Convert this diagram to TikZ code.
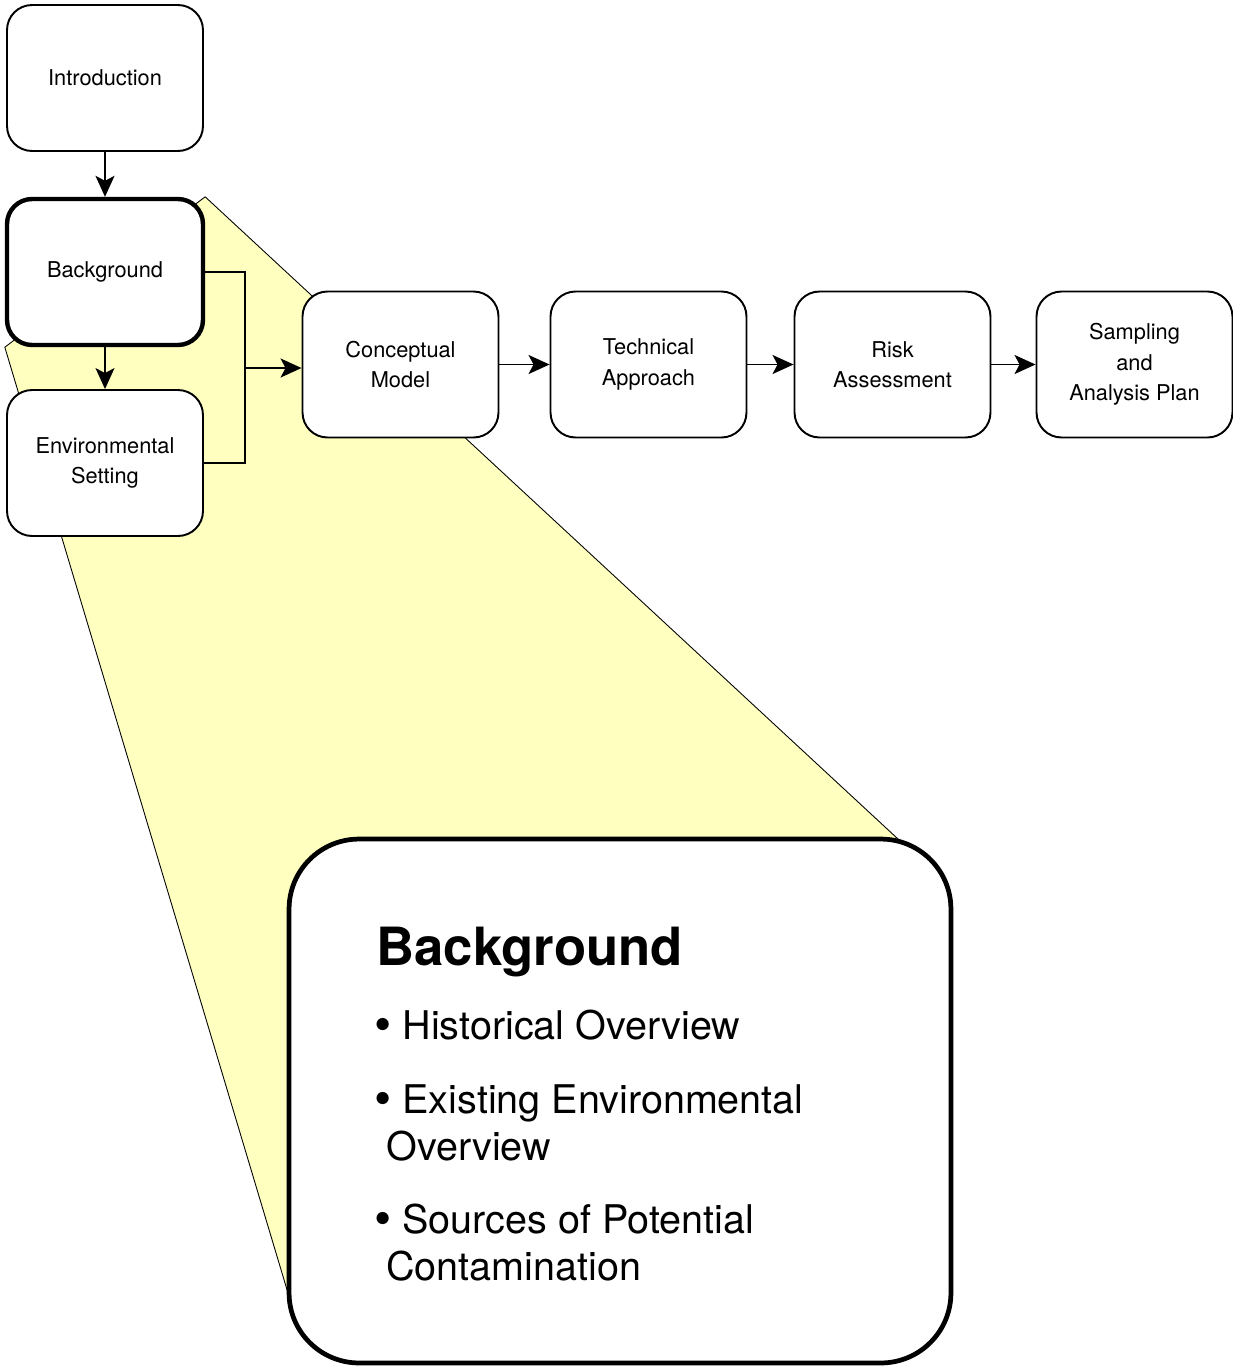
\documentclass[tikz,border=0pt]{standalone}
\usepackage{fontspec}
\setmainfont{TeX Gyre Heros}
\usetikzlibrary{arrows.meta, backgrounds}
\definecolor{fanyellow}{RGB}{255,255,192}
\newcommand{\bigdot}{\raisebox{-1.5pt}{\fontsize{28}{28}\selectfont\textbullet}}
\begin{document}
\begin{tikzpicture}[x=0.02cm, y=-0.02cm,
	box/.style={draw, line width=1.1pt, fill=white, rounded corners=0.5cm, minimum width=3.92cm, minimum height=2.92cm, align=center, font=\fontsize{12.4}{17.4}\selectfont},
	arr/.style={line width=1.1pt, -{Stealth[length=0.42cm, width=0.38cm, inset=0.1cm]}},
	item/.style={anchor=base west, align=left, inner sep=0pt, font=\fontsize{22.5}{26.6}\selectfont}]
	\useasboundingbox (0, 0) rectangle (1233, 1367);

	\coordinate (fanr) at (898, 839);
	\coordinate (fanl) at (288, 1293);
	\coordinate (jn) at (245, 368);

	\node[box] at (105, 78) (intro) {Introduction};
	\node[box, line width=2.5pt] at (105, 272) (bg) {Background};
	\node[box] at (105, 463) (env) {Environmental\\Setting};

	\node[box] at (400.5, 364.5) (cm) {Conceptual\\Model};
	\node[box] at (648.5, 364.5) (ta) {Technical\\Approach};
	\node[box] at (892.5, 364.5) (ra) {Risk\\Assessment};
	\node[box] at (1134.5, 364.5) (sap) {Sampling\\and\\Analysis Plan};

	\draw[line width=1.1pt] (bg.east) -| (jn) |- (env.east);
	\path
	(intro) edge[arr] (bg)
	(bg) edge[arr] (env)
	(jn) edge[arr] (jn -| cm.west)
	(cm) edge[arr] (ta)
	(ta) edge[arr] (ra)
	(ra) edge[arr] (sap);

	% detail box
	\node[draw, line width=2.7pt, fill=white, rounded corners=1.4cm, minimum width=13.24cm, minimum height=10.48cm] at (620, 1101) (detail) {};
	\node[anchor=base west, inner sep=0pt, font=\fontsize{30}{36}\selectfont\bfseries] at (376, 965) (title) {Background};
	\node[item] at (374, 1039) (hist) {\bigdot\ Historical Overview};
	\node[item] at (374, 1160) (exist) {\bigdot\ Existing Environmental\\\hspace{0.24cm}Overview};
	\node[item] at (374, 1280) (src) {\bigdot\ Sources of Potential\\\hspace{0.24cm}Contamination};

	% zoom fan
	\begin{scope}[on background layer]
		\fill[fanyellow, draw=black, line width=0.5pt] (bg.north east) -- (fanr) -- (fanl) -- (bg.south west) -- cycle;
	\end{scope}
\end{tikzpicture}
\end{document}
